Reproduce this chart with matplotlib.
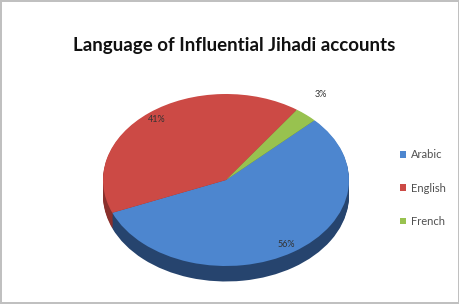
import numpy as np
import matplotlib.pyplot as plt

labels = ['Arabic', 'English', 'French']
shares = [56, 41, 3]
top_colors = ['#4d86cf', '#cc4a45', '#98c24f']
side_colors = ['#26446e', '#8a302d', '#5f7f2f']

fig = plt.figure(figsize=(4.6, 3.04), dpi=100)
fig.patch.set_edgecolor('#c0c0c0')
fig.patch.set_linewidth(1.5)

# axes placed so that the pie top face is an ellipse (246 x 170 px)
W, H = 460, 304
cx, cy, rx, ry = 226, 180, 123, 86
ax = fig.add_axes([(cx - rx) / W, (H - cy - ry) / H, 2 * rx / W, 2 * ry / H])

depth = 0.18
for off in np.linspace(depth, 0.01, 14):
    ax.pie(shares, colors=side_colors, startangle=44, counterclock=False,
           center=(0, -off), radius=1, wedgeprops=dict(linewidth=0))

wedges, texts, autotexts = ax.pie(
    shares, colors=top_colors, startangle=44, counterclock=False,
    autopct='%d%%', pctdistance=0.9, radius=1,
    wedgeprops=dict(linewidth=0),
    textprops=dict(fontsize=6.5, color='#333333', family='Lato'))
autotexts[2].set_position((0.77, 0.99))

ax.set_aspect('auto')
ax.set_xlim(-1, 1)
ax.set_ylim(-1, 1)
for p in ax.patches:
    p.set_clip_on(False)

fig.text(234 / W, 1 - 45 / H, 'Language of Influential Jihadi accounts',
         ha='center', va='center', fontsize=13.5, fontweight='bold',
         family='Lato', color='#111111')

fig.legend(wedges, labels, loc='center left',
           bbox_to_anchor=(390 / W, 1 - 188 / H), frameon=False,
           prop=dict(family='Lato', size=8), labelcolor='#505050',
           handlelength=0.5, handleheight=0.5, handletextpad=0.5,
           labelspacing=2.0)

fig.savefig('out.png', dpi=100)
